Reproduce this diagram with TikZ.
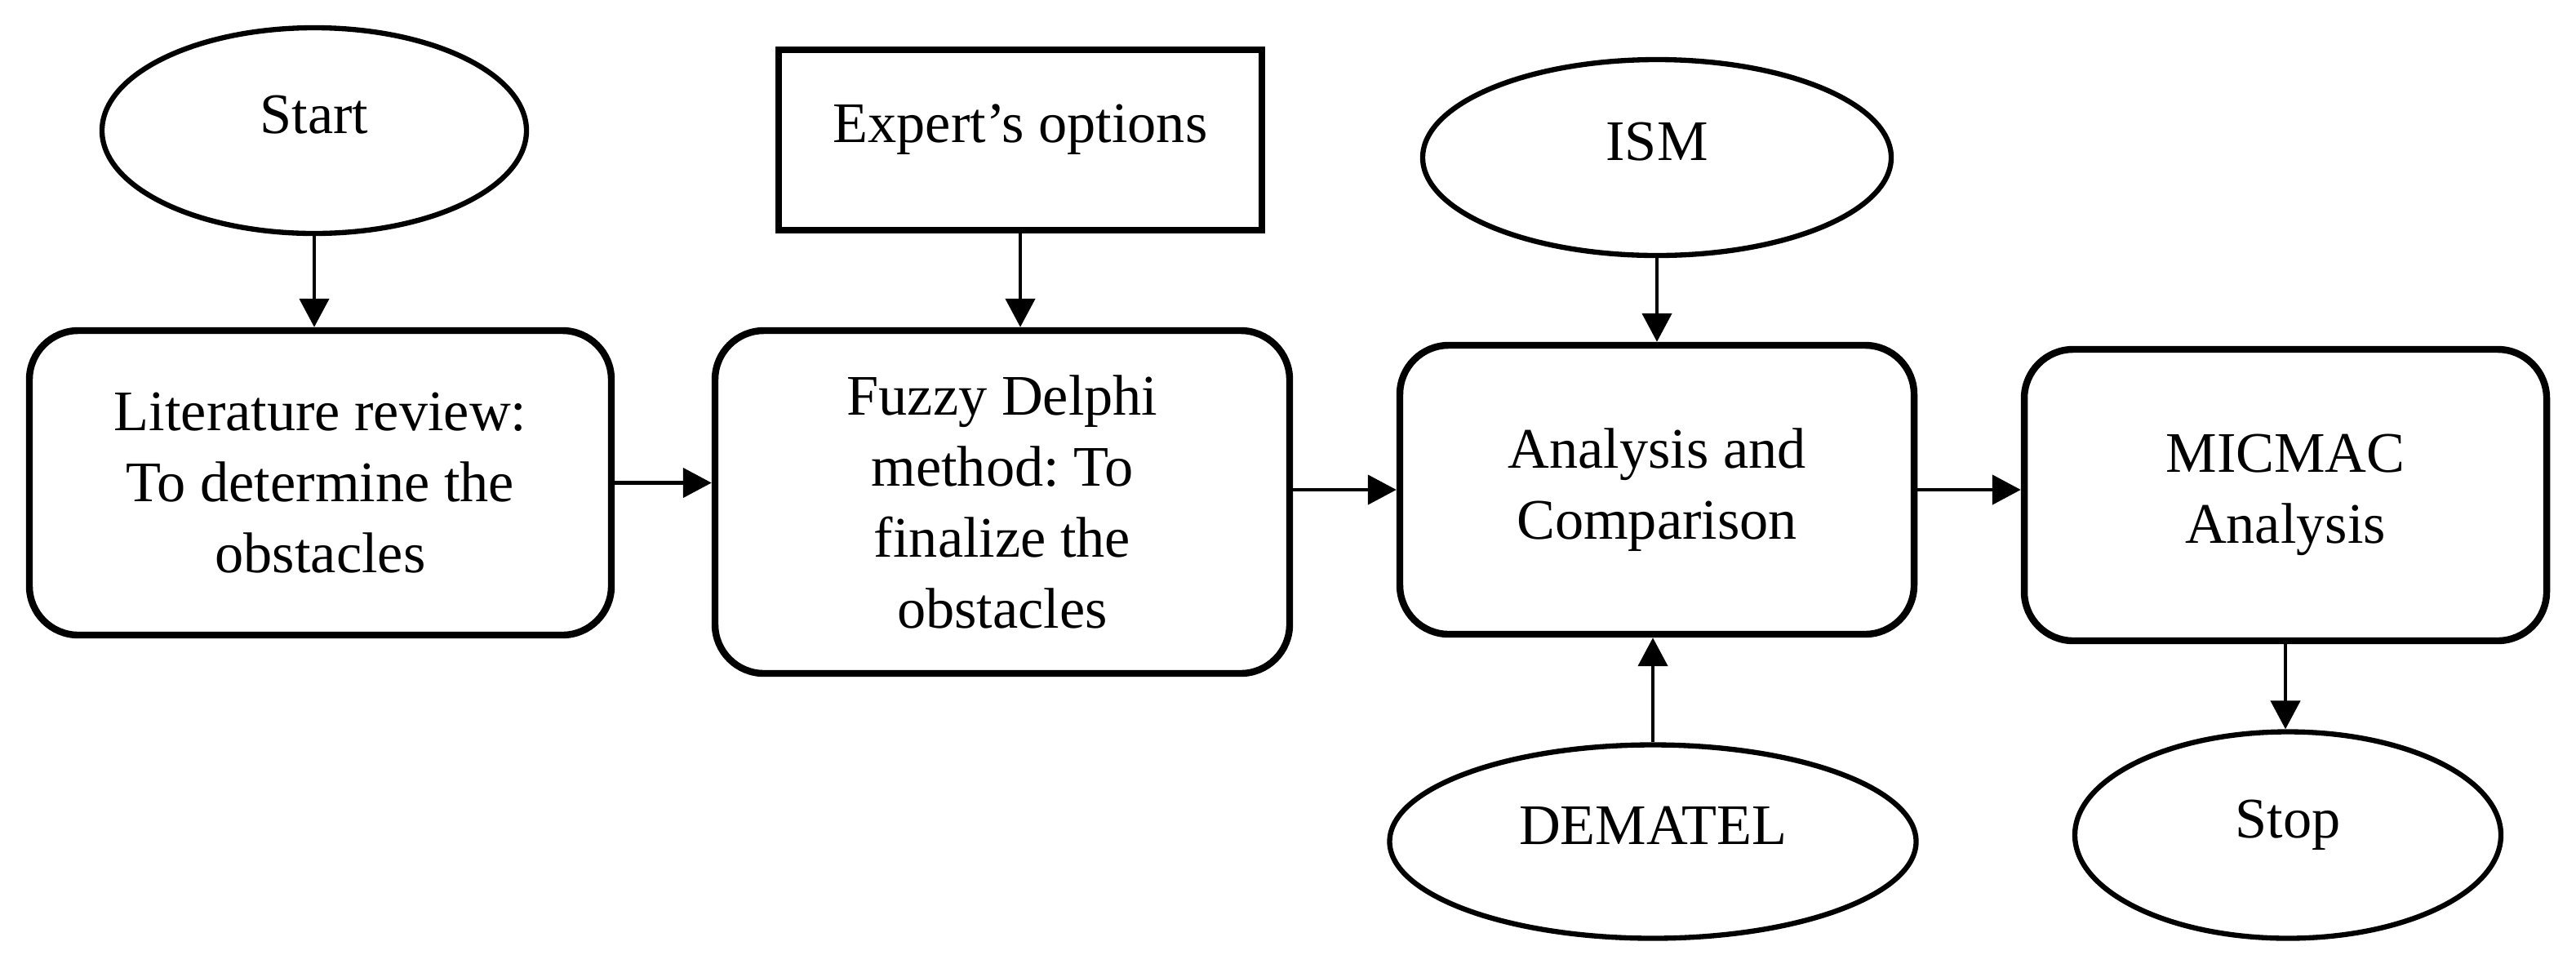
\documentclass[tikz,border=0pt]{standalone}
\usepackage{fontspec}
\setmainfont{Liberation Serif}
\usetikzlibrary{shapes.geometric, arrows.meta}
\newcommand{\lifttext}[1]{\raisebox{4mm}{#1}}
\frenchspacing

\begin{document}
\begin{tikzpicture}[
            > = {Triangle[length=3.5mm, width=3.6mm]},
  every node/.style = {font=\fontsize{20}{24.7}\selectfont, align=center, inner sep=0pt},
   step box/.style = {draw, line width=2.4pt, rounded corners=6mm},
  term/.style = {draw, ellipse, line width=1.8pt},
  source/.style = {draw, line width=2.4pt},
  flow/.style = {->, line width=1.3pt}
                        ]
\useasboundingbox (0,0) rectangle (31.56,-11.8);
% top row
\node[term, minimum width=52mm, minimum height=25.2mm] (start) at (3.85,-1.60) {\lifttext{Start}};
\node[source, minimum width=59.2mm, minimum height=22.1mm] (expert) at (12.50,-1.715) {\lifttext{Expert’s options}};
\node[term, minimum width=57.4mm, minimum height=24mm] (ism) at (20.30,-1.93) {\lifttext{ISM}};
% steps
\node[step box, minimum width=71.3mm, minimum height=37.3mm] (lit) at (3.925,-5.915)
    {Literature review:\\ To determine the\\ obstacles};
\node[step box, minimum width=70.4mm, minimum height=42mm] (fuzzy) at (12.28,-6.15)
    {Fuzzy Delphi\\ method: To\\ finalize the\\ obstacles};
\node[step box, minimum width=63mm, minimum height=35.4mm] (ana) at (20.30,-6.00)
    {Analysis and\\ Comparison};
\node[step box, minimum width=64mm, minimum height=35.7mm] (mic) at (28.00,-6.065)
    {MICMAC\\ Analysis};
% bottom row
\node[term, minimum width=64.5mm, minimum height=23.7mm] (dem) at (20.25,-10.31) {\lifttext{DEMATEL}};
\node[term, minimum width=52.2mm, minimum height=25.3mm] (stop) at (28.03,-10.23) {\lifttext{Stop}};
% arrows
\draw[flow] (start) -- (start |- lit.north);
\draw[flow] (expert) -- (expert |- fuzzy.north);
\draw[flow] (ism) -- (ism |- ana.north);
\draw[flow] (dem) -- (dem |- ana.south);
\draw[flow] (lit.east) -- (fuzzy.west |- lit.east);
\draw[flow] (fuzzy.east |- ana.west) -- (ana.west);
\draw[flow] (ana.east) -- (mic.west |- ana.east);
\draw[flow] (mic) -- (mic |- stop.north);
\end{tikzpicture}
\end{document}
